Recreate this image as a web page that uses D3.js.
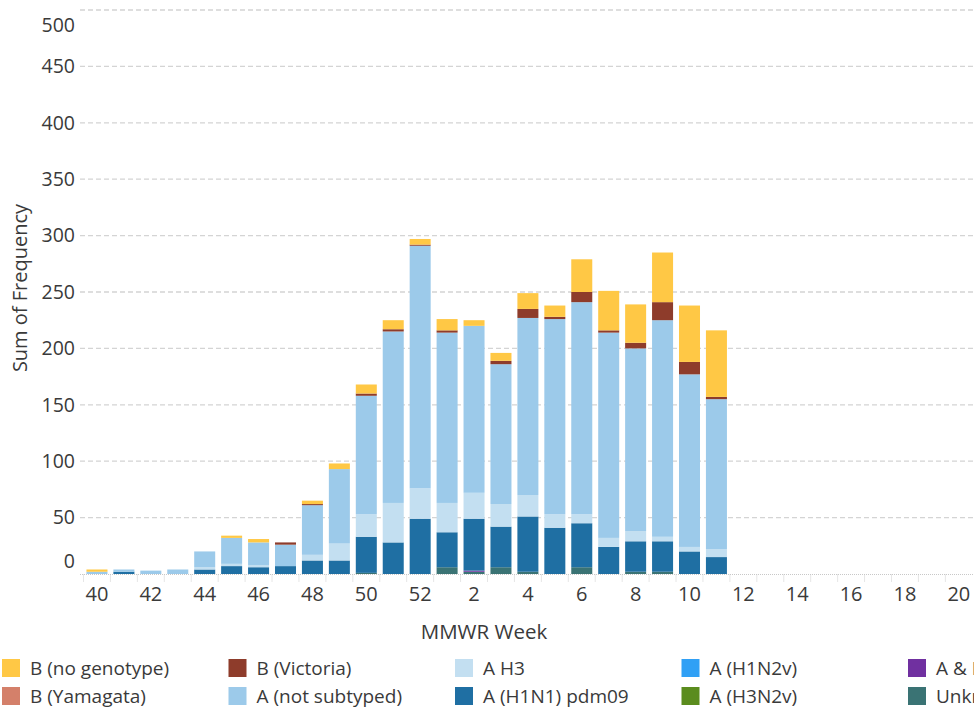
<!DOCTYPE html>
<html>
<head>
<meta charset="utf-8">
<script src="https://cdn.jsdelivr.net/npm/d3@7"></script>
<style>
  html, body { margin: 0; padding: 0; background: #fff; overflow: hidden; }
  svg { display: block; }
  text { font-family: "Open Sans", "Noto Sans", sans-serif; }
</style>
</head>
<body>
<svg id="chart" width="974" height="709"></svg>
<script>
// ---- data ----
const weeks = ["40","41","42","43","44","45","46","47","48","49","50","51","52",
  "1","2","3","4","5","6","7","8","9","10","11","12","13","14","15","16","17","18","19","20"];
const xTickLabels = ["40","42","44","46","48","50","52","2","4","6","8","10","12","14","16","18","20"];
const yTicks = [0,50,100,150,200,250,300,350,400,450,500];

// series values (weeks 40..52, 1..11; weeks 12..20 have no data)
const unknown     = [0,0,0,0,0,0,0,0,0,0,1,0,0,6,2,6,2,0,6,0,2,2,0,0,0,0,0,0,0,0,0,0,0];
const aAndB       = [0,0,0,0,0,0,0,0,0,0,0,0,0,0,1,0,0,0,0,0,0,0,0,0,0,0,0,0,0,0,0,0,0];
const aH3N2v      = [0,0,0,0,0,0,0,0,0,0,0,0,0,0,0,0,0,0,0,0,0,0,0,0,0,0,0,0,0,0,0,0,0];
const aH1N2v      = [0,0,0,0,0,0,0,0,0,0,0,0,0,0,0,0,0,0,0,0,0,0,0,0,0,0,0,0,0,0,0,0,0];
const aH1N1pdm09  = [0,2,0,0,4,7,6,7,12,12,32,28,49,31,46,36,49,41,39,24,27,27,20,15,0,0,0,0,0,0,0,0,0];
const aH3         = [0,0,0,0,2,2,2,0,5,15,20,35,27,26,23,20,19,12,8,8,9,4,4,7,0,0,0,0,0,0,0,0,0];
const aNotSub     = [2,2,3,4,14,23,20,19,44,66,105,152,215,151,148,124,157,173,188,182,162,192,153,133,0,0,0,0,0,0,0,0,0];
const bYamagata   = [0,0,0,0,0,0,0,0,0,0,0,0,0,0,0,0,0,0,0,0,0,0,0,0,0,0,0,0,0,0,0,0,0];
const bVictoria   = [0,0,0,0,0,0,0,2,1,0,2,2,1,2,0,3,8,2,9,2,5,16,11,2,0,0,0,0,0,0,0,0,0];
const bNoGenotype = [2,0,0,0,0,2,3,0,3,5,8,8,5,10,5,7,14,10,29,35,34,44,50,59,0,0,0,0,0,0,0,0,0];

// stacking order bottom -> top
const seriesNames = ["Unknown","A & B","A (H3N2v)","A (H1N2v)","A (H1N1) pdm09","A H3","A (not subtyped)","B (Yamagata)","B (Victoria)","B (no genotype)"];
const seriesValues = [unknown,aAndB,aH3N2v,aH1N2v,aH1N1pdm09,aH3,aNotSub,bYamagata,bVictoria,bNoGenotype];
const seriesColors = ["#3a7374","#7030a0","#5b8c1e","#30a0f5","#1f6fa3","#c3dff1","#9ccaea","#d4806a","#8e3c2b","#ffc845"];

// legend order (row-major, 2 rows)
const legendNames = ["B (no genotype)","B (Victoria)","A H3","A (H1N2v)","A & B",
                     "B (Yamagata)","A (not subtyped)","A (H1N1) pdm09","A (H3N2v)","Unknown"];

// ---- build ----
const svg = d3.select("#chart");
const plotLeft = 83.5, plotRight = 972.3, plotTop = 10, plotBottom = 574;

const x = d3.scaleBand().domain(weeks).range([plotLeft, plotRight]).paddingInner(0.22).paddingOuter(0.11);
const y = d3.scaleLinear().domain([0, 500]).range([plotBottom, plotTop]);

const table = weeks.map((w, i) => {
  const row = { week: w };
  seriesNames.forEach((s, k) => row[s] = seriesValues[k][i]);
  return row;
});
const stacked = d3.stack().keys(seriesNames)(table);
const color = d3.scaleOrdinal().domain(seriesNames).range(seriesColors);

// gridlines
svg.append("g").selectAll("line").data(yTicks.filter(d => d > 0)).join("line")
  .attr("x1", 80).attr("x2", 974)
  .attr("y1", d => y(d)).attr("y2", d => y(d))
  .attr("stroke", "#d4d4d4").attr("stroke-width", 1.3).attr("stroke-dasharray", "5,3");

// y labels
svg.append("g").selectAll("text").data(yTicks).join("text")
  .attr("x", 75)
  .attr("y", d => Math.min(Math.max(y(d), 25), 561))
  .attr("dy", "0.35em")
  .attr("text-anchor", "end")
  .attr("font-size", 19.5)
  .attr("fill", "#3a3a3a")
  .text(d => d);

// x ticks at band boundaries
const step = x.step();
svg.append("g").selectAll("line").data(weeks).join("line")
  .attr("x1", d => x(d) - step * x.paddingInner() / 2)
  .attr("x2", d => x(d) - step * x.paddingInner() / 2)
  .attr("y1", plotBottom).attr("y2", plotBottom + 8)
  .attr("stroke", "#e6e6e6").attr("stroke-width", 1);

// bars
svg.append("g").selectAll("g").data(stacked).join("g")
  .attr("fill", d => color(d.key))
  .selectAll("rect").data(d => d.filter(p => p[1] - p[0] > 0)).join("rect")
  .attr("x", d => x(d.data.week))
  .attr("width", x.bandwidth())
  .attr("y", d => y(d[1]))
  .attr("height", d => y(d[0]) - y(d[1]));

// baseline dotted
svg.append("line").attr("x1", 80).attr("x2", 974).attr("y1", plotBottom + 0.5).attr("y2", plotBottom + 0.5)
  .attr("stroke", "#c8c8c8").attr("stroke-width", 1).attr("stroke-dasharray", "1,1");

// x labels
svg.append("g").selectAll("text").data(xTickLabels).join("text")
  .attr("x", d => x(d) + x.bandwidth() / 2)
  .attr("y", 594).attr("dy", "0.35em")
  .attr("text-anchor", "middle")
  .attr("font-size", 20).attr("fill", "#3a3a3a")
  .text(d => d);

// axis titles
svg.append("text").attr("x", 484).attr("y", 632).attr("dy", "0.35em")
  .attr("text-anchor", "middle").attr("font-size", 20.5).attr("fill", "#3a3a3a").text("MMWR Week");
svg.append("text").attr("transform", "translate(20,288) rotate(-90)").attr("dy", "0.35em")
  .attr("text-anchor", "middle").attr("font-size", 20).attr("fill", "#3a3a3a").text("Sum of Frequency");

// legend
const lg = svg.append("g").selectAll("g").data(legendNames).join("g")
  .attr("transform", (d, i) => `translate(${2 + (i % 5) * 226.5},${i < 5 ? 659 : 687})`);
lg.append("rect").attr("width", 18).attr("height", 18).attr("fill", d => color(d));
lg.append("text").attr("x", 28).attr("y", 9).attr("dy", "0.35em")
  .attr("font-size", 19).attr("fill", "#3a3a3a").text(d => d);
</script>
</body>
</html>
